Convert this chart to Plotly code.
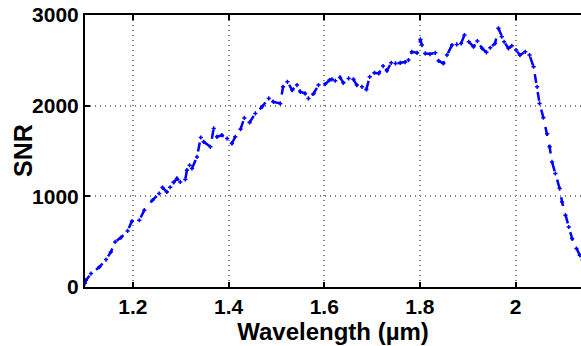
import plotly.graph_objects as go

wavelength = [1.100, 1.102, 1.1125, 1.130, 1.144, 1.154, 1.163, 1.175, 1.189, 1.198,
              1.2135, 1.224, 1.241, 1.255, 1.262, 1.271, 1.278, 1.285, 1.292, 1.299,
              1.3096, 1.313, 1.3186, 1.3236, 1.334, 1.342, 1.348, 1.362, 1.369, 1.376,
              1.386, 1.397, 1.407, 1.414, 1.425, 1.433, 1.444, 1.456, 1.470, 1.484,
              1.494, 1.508, 1.514, 1.523, 1.533, 1.543, 1.550, 1.560, 1.567, 1.578,
              1.588, 1.602, 1.611, 1.616, 1.623, 1.633, 1.640, 1.651, 1.661, 1.668,
              1.679, 1.688, 1.695, 1.705, 1.714, 1.723, 1.731, 1.740, 1.749, 1.759,
              1.769, 1.776, 1.783, 1.794, 1.801, 1.804, 1.811, 1.821, 1.832, 1.839,
              1.849, 1.8565, 1.867, 1.877, 1.886, 1.893, 1.902, 1.912, 1.920, 1.930,
              1.939, 1.947, 1.957, 1.964, 1.971, 1.976, 1.985, 1.992, 2.001, 2.009,
              2.020, 2.029, 2.0375, 2.045, 2.050, 2.058, 2.066, 2.071, 2.076, 2.083,
              2.092, 2.097, 2.104, 2.111, 2.118, 2.127, 2.134, 2.140]

snr = [40, 75, 148, 220, 302, 386, 497, 545, 618, 725,
       736, 847, 957, 1031, 1097, 1049, 1100, 1155, 1197, 1159,
       1186, 1288, 1343, 1307, 1435, 1649, 1601, 1546, 1749, 1656,
       1675, 1638, 1583, 1656, 1740, 1865, 1815, 1914, 1987, 2080,
       2042, 2025, 2208, 2263, 2172, 2227, 2153, 2135, 2080, 2135,
       2227, 2238, 2282, 2290, 2275, 2312, 2252, 2300, 2290, 2227,
       2208, 2179, 2318, 2363, 2356, 2437, 2385, 2473, 2466, 2473,
       2481, 2503, 2594, 2583, 2731, 2668, 2576, 2569, 2583, 2495,
       2466, 2558, 2668, 2676, 2687, 2779, 2705, 2650, 2712, 2632,
       2588, 2639, 2687, 2853, 2760, 2705, 2632, 2661, 2613, 2558,
       2594, 2558, 2429, 2208, 2025, 1868, 1690, 1546, 1380, 1252,
       1086, 938, 792, 662, 534, 424, 350, 300]

x_ticks = [1.2, 1.4, 1.6, 1.8, 2.0]
x_tick_labels = ["1.2", "1.4", "1.6", "1.8", "2"]
y_ticks = [0, 1000, 2000, 3000]
y_tick_labels = ["0", "1000", "2000", "3000"]

fig = go.Figure()
fig.add_trace(go.Scatter(
    x=wavelength, y=snr, mode="lines+markers",
    line=dict(color="#0000FF", width=2.5, dash="dash"),
    marker=dict(symbol="cross-thin", size=3, color="#0000FF",
                line=dict(color="#0000FF", width=1.5)),
    cliponaxis=True, showlegend=False,
))

font_family = "Liberation Sans, Arial, sans-serif"
grid_dash = "1px,4px"
fig.update_layout(
    width=581, height=346,
    margin=dict(l=85, r=0, t=15, b=59),
    paper_bgcolor="white", plot_bgcolor="white",
    font=dict(family=font_family, color="black"),
    xaxis=dict(
        range=[1.1, 2.1366], tickvals=x_ticks, ticktext=x_tick_labels,
        showline=True, linecolor="black", linewidth=2, mirror="ticks",
        ticks="inside", ticklen=5, tickwidth=2, tickcolor="black",
        showgrid=True, gridcolor="#808080", griddash=grid_dash, gridwidth=1.5,
        zeroline=False,
        tickfont=dict(family=font_family, size=21, color="black", weight="bold"),
        title=dict(text="Wavelength (µm)", standoff=4,
                   font=dict(family=font_family, size=24, color="black", weight="bold")),
    ),
    yaxis=dict(
        range=[0, 3000], tickvals=y_ticks, ticktext=y_tick_labels,
        showline=True, linecolor="black", linewidth=2, mirror=False,
        ticks="inside", ticklen=5, tickwidth=2, tickcolor="black",
        showgrid=True, gridcolor="#808080", griddash=grid_dash, gridwidth=1.5,
        zeroline=False,
        tickfont=dict(family=font_family, size=21, color="black", weight="bold"),
    ),
    annotations=[dict(
        text="SNR", textangle=-90, xref="paper", yref="paper",
        x=(23 - 85) / 496, y=0.5, xanchor="center", yanchor="middle",
        showarrow=False,
        font=dict(family=font_family, size=25, color="black", weight="bold"),
    )],
)

fig.write_html("out.html")
